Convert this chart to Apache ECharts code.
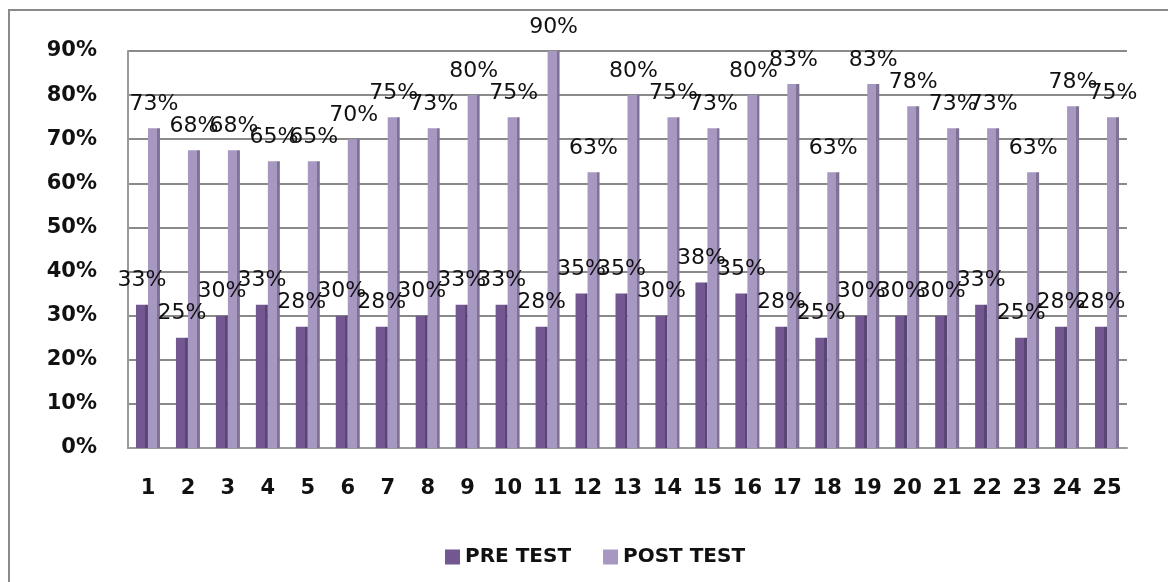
<!DOCTYPE html>
<html>
<head>
<meta charset="utf-8">
<script src="https://cdn.jsdelivr.net/npm/echarts@6/dist/echarts.min.js"></script>
<style>
html,body{margin:0;padding:0;background:#fff;}
#c{width:1168px;height:582px;}
</style>
</head>
<body>
<div id="c"></div>
<script>
const categories = ['1','2','3','4','5','6','7','8','9','10','11','12','13','14','15','16','17','18','19','20','21','22','23','24','25'];
const preTest  = [32.5,25,30,32.5,27.5,30,27.5,30,32.5,32.5,27.5,35,35,30,37.5,35,27.5,25,30,30,30,32.5,25,27.5,27.5];
const postTest = [72.5,67.5,67.5,65,65,70,75,72.5,80,75,90,62.5,80,75,72.5,80,82.5,62.5,82.5,77.5,72.5,72.5,62.5,77.5,75];
const yTicks = [0,10,20,30,40,50,60,70,80,90];

function grad(face, side){
  return {type:'linear',x:0,y:0,x2:1,y2:0,colorStops:[
    {offset:0,color:face},{offset:0.76,color:face},{offset:0.76,color:side},{offset:1,color:side}]};
}
const labelStyle = {
  show:true, position:'top', distance:13,
  fontFamily:'DejaVu Sans', fontSize:22, color:'#111',
  formatter: p => Math.round(p.value) + '%'
};

const chart = echarts.init(document.getElementById('c'));
chart.setOption({
  animation:false,
  backgroundColor:'#fff',
  graphic:[{type:'rect',shape:{x:9,y:10,width:1200,height:620},style:{fill:'none',stroke:'#8a8a8a',lineWidth:2},silent:true}],
  grid:{left:128,right:41,top:51,bottom:134},
  legend:{
    data:[{name:'PRE TEST',itemStyle:{color:'#725791'}},{name:'POST TEST',itemStyle:{color:'#a698c0'}}],
    left:440, top:542,
    itemWidth:15, itemHeight:15, itemGap:32,
    icon:'rect',
    textStyle:{fontFamily:'DejaVu Sans',fontWeight:'bold',fontSize:20,color:'#111'}
  },
  xAxis:{
    type:'category', data:categories,
    axisLine:{show:true,lineStyle:{color:'#9a9a9a',width:2}},
    axisTick:{show:false},
    axisLabel:{margin:30,fontFamily:'DejaVu Sans',fontWeight:'bold',fontSize:21,color:'#111'}
  },
  yAxis:{
    type:'value', min:0, max:90, interval:10,
    axisLine:{show:true,lineStyle:{color:'#9a9a9a',width:2}},
    axisTick:{show:false},
    splitLine:{lineStyle:{color:'#8a8a8a',width:2}},
    axisLabel:{margin:31,fontFamily:'DejaVu Sans',fontWeight:'bold',fontSize:21,color:'#111',
      padding:[12,0,0,0],
      formatter: v => yTicks.includes(v) ? v + '%' : ''}
  },
  series:[
    {name:'PRE TEST',type:'bar',data:preTest,barWidth:12,barGap:'0%',
     itemStyle:{color:grad('#725791','#5a4574')},label:labelStyle},
    {name:'POST TEST',type:'bar',data:postTest,barWidth:12,
     itemStyle:{color:grad('#a698c0','#7f7295')},label:labelStyle}
  ]
});
</script>
</body>
</html>
